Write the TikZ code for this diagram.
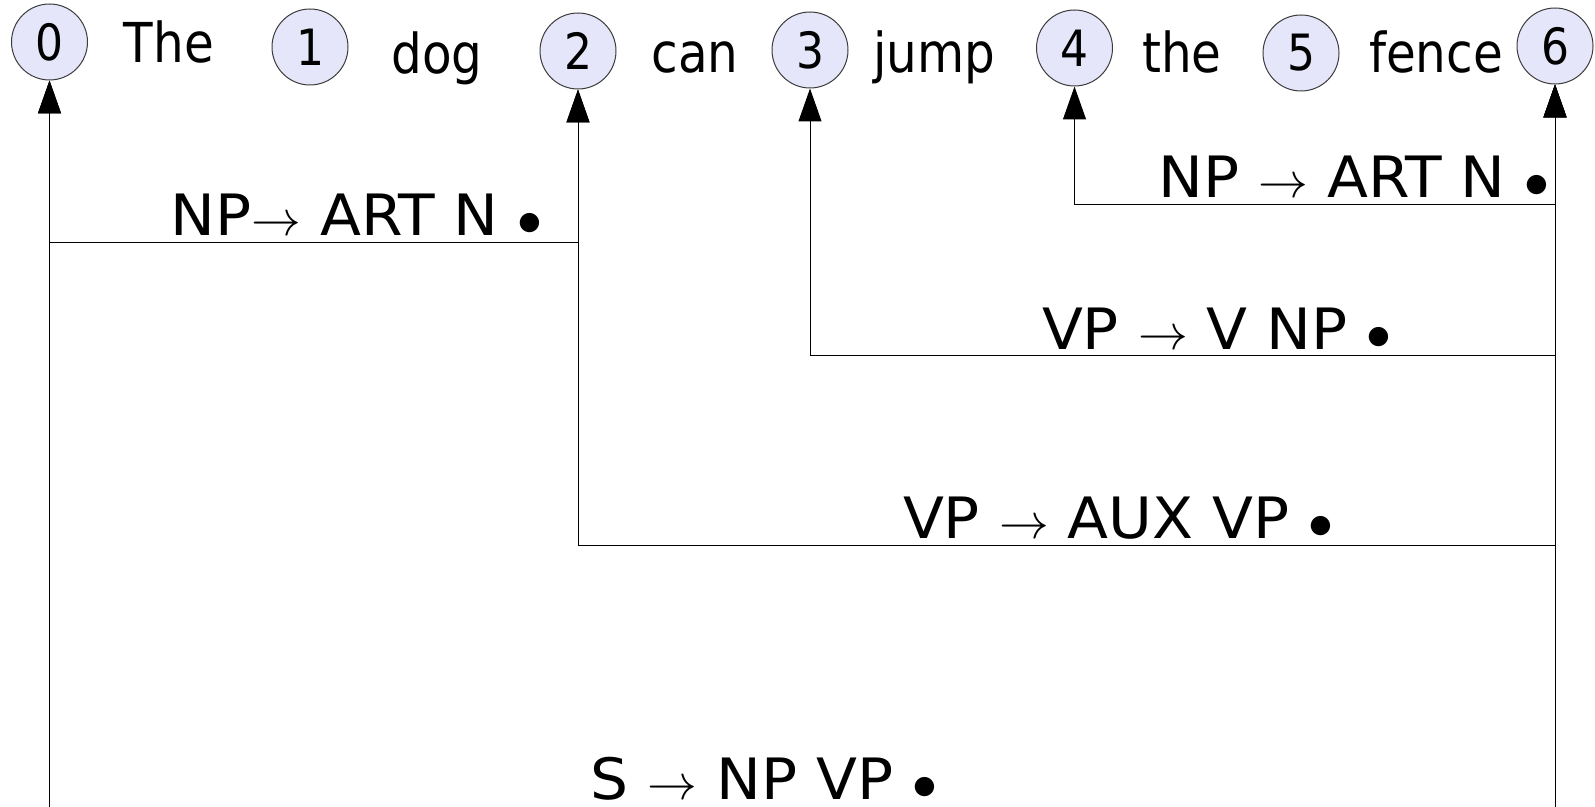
\documentclass[tikz,border=0pt]{standalone}
\usepackage{fontspec}
\setmainfont{DejaVu Sans}
\newfontfamily\wordfont{DejaVu Sans}[FakeStretch=0.88]
\newfontfamily\rulefont{DejaVu Sans}[FakeStretch=1.05]
\newcommand{\ruarrow}{{\fontsize{33}{33}\selectfont$\rightarrow$}}
\usetikzlibrary{arrows.meta}
\definecolor{nodefill}{RGB}{230,230,250}
\definecolor{nodeline}{RGB}{60,60,60}
\begin{document}
\begin{tikzpicture}[x=0.5pt,y=-0.5pt,
  vnode/.style={circle,draw=nodeline,fill=nodefill,line width=0.5pt,minimum size=38pt,inner sep=0pt,font=\wordfont\fontsize{25}{25}\selectfont},
  word/.style={anchor=base,font=\wordfont\fontsize{27.5}{27.5}\selectfont,inner sep=0pt},
  rulelabel/.style={anchor=base east,font=\rulefont\fontsize{28.5}{28.5}\selectfont,inner sep=0pt,text depth=0pt},
  edge/.style={line width=0.5pt,{Triangle[length=16.5pt,width=11.5pt]}-{Triangle[length=16.5pt,width=11.5pt]}}]
\useasboundingbox (0,0) rectangle (1595,807);
\begin{scope}
\clip (0,0) rectangle (1595,807);
\node[vnode] (n0) at (49.5,42) {0};
\node[vnode] (n1) at (310,47) {1};
\node[vnode] (n2) at (578,51) {2};
\node[vnode] (n3) at (810,50) {3};
\node[vnode] (n4) at (1074.5,48) {4};
\node[vnode] (n5) at (1301,53) {5};
\node[vnode] (n6) at (1555,46) {6};
\node[word] (w1) at (169,63) {The};
\node[word] (w2) at (437,74) {dog};
\node[word] (w3) at (695,73) {can};
\node[word] (w4) at (934,73) {jump};
\node[word] (w5) at (1182,73) {the};
\node[word] (w6) at (1436,73) {fence};
\draw[edge] (n0.south) -- (n0.south |- 0,860) -- (n6.south |- 0,860) -- (n6.south);
\draw[edge] (n0.south) -- (n0.south |- 0,243) -- (n2.south |- 0,243) -- (n2.south);
\draw[edge] (n4.south) -- (n4.south |- 0,204.5) -- (n6.south |- 0,204.5) -- (n6.south);
\draw[edge] (n3.south) -- (n3.south |- 0,356) -- (n6.south |- 0,356) -- (n6.south);
\draw[edge] (n2.south) -- (n2.south |- 0,545) -- (n6.south |- 0,545) -- (n6.south);
\node[rulelabel] (r1) at (543,236) {NP\ruarrow\ ART N $\bullet$};
\node[rulelabel] (r2) at (1550,198) {NP \ruarrow\ ART N $\bullet$};
\node[rulelabel] (r3) at (1392,350) {VP \ruarrow\ V NP $\bullet$};
\node[rulelabel] (r4) at (1334,538) {VP \ruarrow\ AUX VP $\bullet$};
\node[rulelabel] (r5) at (938,799) {S \ruarrow\ NP VP $\bullet$};
\end{scope}
\end{tikzpicture}
\end{document}
